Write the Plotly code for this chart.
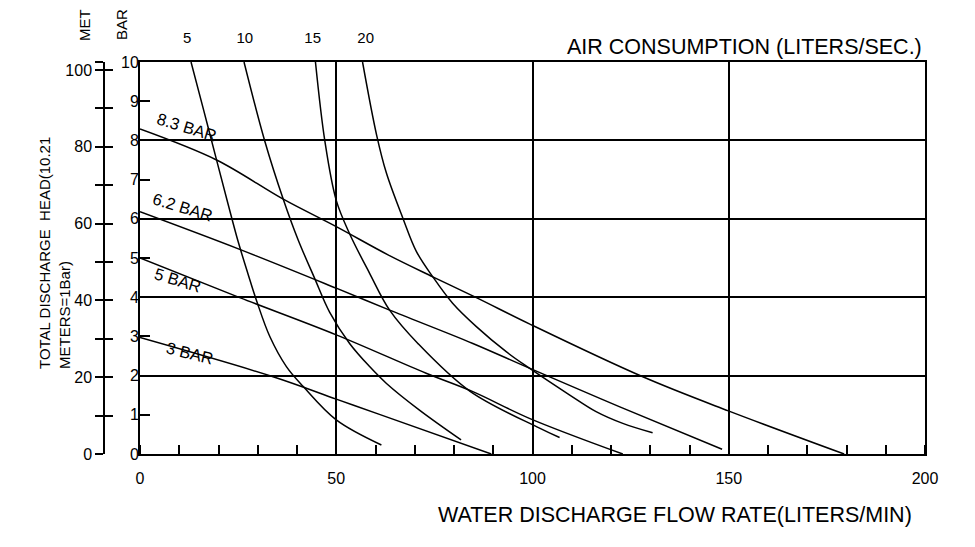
import plotly.graph_objects as go

# pressure curves (flow L/min, head bar)
p83_flow = [0, 19.5, 36.5, 50, 63.2, 74.6, 85.7, 99.2, 128.1, 149.9, 179.4]
p83_bar = [8.29, 7.5, 6.5, 5.8, 5.08, 4.52, 3.99, 3.32, 1.97, 1.10, 0]
p62_flow = [0, 25.4, 50, 63.6, 84.8, 99.2, 122.1, 148.3]
p62_bar = [6.18, 5.22, 4.23, 3.67, 2.82, 2.19, 1.21, 0.12]
p5_flow = [0, 25.4, 50, 72.9, 84.8, 99.2, 123]
p5_bar = [5.0, 3.99, 3.04, 2.06, 1.59, 0.91, 0]
p3_flow = [0, 33.9, 50, 61, 89.5]
p3_bar = [2.97, 1.97, 1.40, 1.01, 0]

# air consumption curves
a5_flow = [13, 16.2, 19.4, 22.4, 25, 27.5, 29.7, 33.1, 37.3, 41.6, 50, 61.5]
a5_bar = [10, 8.78, 7.54, 6.39, 5.42, 4.6, 3.91, 2.99, 2.23, 1.72, 0.87, 0.23]
a10_flow = [26.5, 31.8, 36.5, 40.3, 44.5, 48.3, 53.4, 58.5, 62.8, 71.2, 81.8]
a10_bar = [10, 7.98, 6.5, 5.46, 4.48, 3.62, 2.82, 2.23, 1.80, 1.12, 0.36]
a15_flow = [44.7, 47.1, 50, 53.4, 58.5, 63.6, 70.8, 84.1, 101.8, 106.9]
a15_bar = [10, 7.98, 6.47, 5.62, 4.61, 3.67, 2.82, 1.6, 0.66, 0.42]
a20_flow = [56.7, 60.3, 62.8, 67, 70.4, 74.6, 79.7, 85.7, 93.3, 99.2, 109.4, 116.2, 123, 130.6]
a20_bar = [10, 8.13, 7.16, 6.01, 5.17, 4.52, 3.84, 3.25, 2.61, 2.19, 1.51, 1.08, 0.78, 0.54]

pressure_labels = ["8.3 BAR", "6.2 BAR", "5 BAR", "3 BAR"]
label_flow = [12.0, 10.9, 9.7, 12.7]
label_bar = [8.34, 6.3, 4.44, 2.58]
label_angle = [17, 17, 17, 14]

air_labels = ["5", "10", "15", "20"]
air_label_flow = [12.0, 26.7, 44.0, 57.5]

flow_ticks = [0, 50, 100, 150, 200]
bar_ticks = list(range(0, 11))
met_ticks = [0, 10, 20, 30, 40, 50, 60, 70, 80, 90, 100, 102.1]
met_text = ["0", "", "20", "", "40", "", "60", "", "80", "", "100", ""]

FONT = "Liberation Sans, Arial, sans-serif"
# the page adds an 8px body margin, so margins are shifted by that
ML, MR, MT, MB = 22, 58, 54, 101
W, H = 975, 547
pw = W - ML - MR
ph = H - MT - MB
X0 = ML + 8      # screen x of paper 0
Y0 = H - MB + 8  # screen y of paper 0
xdom0 = (140 - X0) / pw
met_pos = (104 - X0) / pw


def px(sx):
    return (sx - X0) / pw


def py(sy):
    return (Y0 - sy) / ph


fig = go.Figure()
for fx, by in [(p83_flow, p83_bar), (p62_flow, p62_bar), (p5_flow, p5_bar), (p3_flow, p3_bar),
               (a5_flow, a5_bar), (a10_flow, a10_bar), (a15_flow, a15_bar), (a20_flow, a20_bar)]:
    fig.add_trace(go.Scatter(x=fx, y=by, mode="lines",
                             line=dict(color="black", width=1.5, shape="spline", smoothing=1.0),
                             showlegend=False, hoverinfo="skip"))

for t, fx, by, ang in zip(pressure_labels, label_flow, label_bar, label_angle):
    fig.add_annotation(x=fx, y=by, xref="x", yref="y", text=t, showarrow=False, textangle=ang,
                       xanchor="center", yanchor="middle",
                       font=dict(family=FONT, size=16.5, color="black"))

common = dict(xref="paper", yref="paper", showarrow=False, xanchor="center", yanchor="middle")
fig.add_annotation(x=px(85), y=py(25), text="MET", textangle=-90,
                   font=dict(family=FONT, size=15, color="black"), **common)
fig.add_annotation(x=px(122), y=py(25), text="BAR", textangle=-90,
                   font=dict(family=FONT, size=15, color="black"), **common)
fig.add_annotation(x=px(744), y=py(47), text="AIR CONSUMPTION (LITERS/SEC.)",
                   font=dict(family=FONT, size=21.5, color="black"), **common)
fig.add_annotation(x=px(675), y=py(515), text="WATER DISCHARGE FLOW RATE(LITERS/MIN)",
                   font=dict(family=FONT, size=21.5, color="black"), **common)
fig.add_annotation(x=px(54), y=py(253), textangle=-90, align="left",
                   text="TOTAL DISCHARGE  HEAD(10.21<br>METERS=1Bar)",
                   font=dict(family=FONT, size=15, color="black"), **common)

tickfont = dict(family=FONT, size=16, color="black")
fig.update_layout(
    width=W, height=H,
    margin=dict(l=ML, r=MR, t=MT, b=MB),
    plot_bgcolor="white", paper_bgcolor="white",
    xaxis=dict(domain=[xdom0, 1], range=[0, 200], tickvals=flow_ticks, showgrid=True, gridcolor="black",
               gridwidth=1.5, zeroline=False, showline=True, linecolor="black", linewidth=2, mirror=True,
               ticks="", tickfont=tickfont, ticklabelstandoff=9,
               minor=dict(dtick=10, ticks="inside", ticklen=9, tickcolor="black", tickwidth=1.5, showgrid=False)),
    xaxis2=dict(overlaying="x", side="top", range=[0, 200], tickvals=air_label_flow, ticktext=air_labels,
                showgrid=False, zeroline=False, showline=False, ticks="outside", ticklen=12,
                tickcolor="rgba(0,0,0,0)", tickfont=dict(family=FONT, size=15, color="black")),
    yaxis=dict(range=[0, 10], tickvals=bar_ticks, showgrid=False, zeroline=False, showline=True,
               linecolor="black", linewidth=2, mirror=True, ticks="inside", ticklen=10, tickwidth=1.5,
               tickcolor="black", tickfont=tickfont, ticklabelstandoff=-4),
    yaxis3=dict(overlaying="y", range=[0, 10], tickvals=[2, 4, 6, 8], showgrid=True, gridcolor="black",
                gridwidth=1.5, showticklabels=False, ticks="", zeroline=False, showline=False),
    yaxis2=dict(overlaying="y", anchor="free", position=met_pos, side="left", range=[0, 102.1],
                tickvals=met_ticks, ticktext=met_text, showgrid=False, zeroline=False, showline=True,
                linecolor="black", linewidth=1.5, ticks="outside", ticklen=8, tickwidth=1.5, tickcolor="black",
                tickfont=tickfont),
    yaxis4=dict(overlaying="y", anchor="free", position=met_pos, side="left", range=[0, 102.1],
                tickvals=met_ticks, showticklabels=False, showgrid=False, zeroline=False, showline=False,
                ticks="inside", ticklen=8, tickwidth=1.5, tickcolor="black"),
)
# empty helper traces so the overlay axes get drawn
for xa, ya in [("x2", "y"), ("x", "y2"), ("x", "y3"), ("x", "y4")]:
    fig.add_trace(go.Scatter(x=[None], y=[None], xaxis=xa, yaxis=ya, showlegend=False, hoverinfo="skip"))

fig.write_html("out.html")
